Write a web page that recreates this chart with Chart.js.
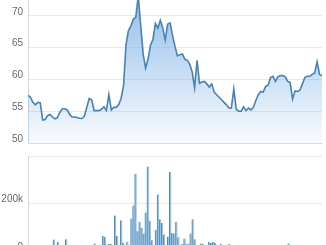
<!DOCTYPE html>
<html lang="en">
    <head>
        <meta charset="UTF-8" />
        <title>Price and Volume</title>
        <script src="https://cdn.jsdelivr.net/npm/chart.js@4.4.0/dist/chart.umd.min.js"></script>
        <style>
            html, body { margin: 0; padding: 0; background: #fff; overflow: hidden; }
            #priceChart { position: absolute; left: 0; top: 0; }
            #volumeChart { position: absolute; left: 0; top: 150px; }
        </style>
    </head>
    <body>
        <canvas id="priceChart" width="326" height="150"></canvas>
        <canvas id="volumeChart" width="326" height="105"></canvas>
        <script>
            // closing price, one value per trading day
            const price = [
                57.5, 57.2, 56.4, 56.0, 56.4, 56.3, 53.6, 53.7, 54.3, 54.5,
                54.1, 53.8, 54.0, 54.8, 55.4, 55.4, 55.2, 54.5, 54.1, 54.1,
                54.0, 53.9, 53.85, 54.2, 55.6, 57.0, 56.8, 55.1, 55.1, 55.1,
                55.3, 55.7, 55.1, 57.6, 55.2, 55.6, 55.6, 56.0, 57.0, 59.0,
                65.5, 67.7, 68.4, 69.5, 69.8, 73.2, 68.5, 64.0, 61.8, 63.2,
                65.4, 66.3, 68.8, 68.1, 69.3, 68.1, 66.2, 68.7, 68.9, 66.9,
                65.2, 63.7, 63.9, 64.0, 63.2, 63.0, 62.4, 61.2, 58.7, 63.0,
                59.4, 59.6, 59.7, 59.3, 58.8, 59.3, 58.0, 57.6, 57.2, 56.8,
                56.4, 56.0, 55.5, 55.5, 58.5, 55.3, 55.0, 55.0, 55.7, 55.1,
                55.5, 55.2, 55.6, 56.7, 57.6, 58.1, 58.0, 58.9, 59.1, 60.3,
                60.5, 59.7, 60.4, 60.6, 60.6, 60.4, 59.7, 59.5, 56.9, 58.2,
                58.1, 58.3, 59.3, 60.3, 60.5, 60.5, 60.8, 61.0, 62.8, 60.8,
                60.6
            ];
            // traded volume, same days
            const volume = [
                48000, 12000, 38000, 9000, 8000, 11000, 50000, 10000, 7000, 9000,
                8000, 10000, 12000, 9000, 8000, 7000, 10000, 9000, 11000, 10000,
                32000, 8000, 10000, 12000, 64000, 59000, 14000, 29000, 29000, 12000,
                149000, 63000, 15000, 129000, 35000, 14000, 39000, 16000, 137000, 192000,
                325000, 83000, 123000, 98000, 74000, 162000, 356000, 127000, 45000, 16000,
                88000, 238000, 134000, 118000, 70000, 16000, 60000, 333000, 76000, 74000,
                123000, 58000, 14000, 31000, 53000, 29000, 31000, 74000, 134000, 50000,
                12000, 10000, 32000, 29000, 12000, 10000, 38000, 35000, 38000, 35000,
                12000, 10000, 29000, 12000, 15000, 10000, 29000, 8000, 12000, 10000,
                8000, 12000, 10000, 8000, 6000, 10000, 8000, 12000, 10000, 8000,
                6000, 10000, 8000, 12000, 10000, 8000, 6000, 10000, 12000, 8000,
                10000, 6000, 8000, 10000, 12000, 32000, 8000, 10000, 6000, 8000,
                10000
            ];
            const days = price.map((p, i) => i);
            const priceTicks = [50, 55, 60, 65, 70];
            const volumeTicks = [0, 200000, 400000];

            const tickFont = { family: 'Liberation Sans', size: 10 };

            function fixAxis(scale) {
                scale.width = 28;
                scale.paddingTop = 0;
                scale.paddingBottom = 0;
            }

            function areaFill(context) {
                const chart = context.chart;
                const area = chart.chartArea;
                if (!area) return 'rgba(124,176,230,0.3)';
                const g = chart.ctx.createLinearGradient(0, area.top, 0, area.bottom);
                g.addColorStop(0, 'rgba(124,176,230,0.8)');
                g.addColorStop(1, 'rgba(124,176,230,0.05)');
                return g;
            }

            const priceChart = new Chart(document.getElementById('priceChart'), {
                type: 'line',
                data: {
                    labels: days,
                    datasets: [{
                        data: price,
                        borderColor: '#4682b4',
                        borderWidth: 1.6,
                        pointRadius: 0,
                        tension: 0,
                        fill: 'start',
                        backgroundColor: areaFill
                    }]
                },
                options: {
                    responsive: false,
                    animation: false,
                    layout: { padding: { left: 0, right: 4, top: 0, bottom: 7 } },
                    plugins: { legend: { display: false }, tooltip: { enabled: false } },
                    scales: {
                        x: { display: false },
                        y: {
                            min: 50,
                            max: 72.5,
                            afterBuildTicks: s => { s.ticks = priceTicks.map(v => ({ value: v })); },
                            afterFit: fixAxis,
                            ticks: { padding: 5, labelOffset: -4, color: '#666', font: tickFont },
                            grid: {
                                drawTicks: false,
                                color: c => c.tick && c.tick.value === 50 ? '#d6dce6' : '#e9e9e9'
                            },
                            border: { color: '#ccd6eb' }
                        }
                    }
                }
            });

            const volumeChart = new Chart(document.getElementById('volumeChart'), {
                type: 'bar',
                data: {
                    datasets: [{
                        data: volume.map((v, i) => ({ x: days[i], y: v })),
                        backgroundColor: '#9fc2dc',
                        borderColor: '#4a86b4',
                        borderWidth: { left: 1, right: 0, top: 0, bottom: 0 },
                        borderSkipped: false,
                        barThickness: 2
                    }]
                },
                options: {
                    responsive: false,
                    animation: false,
                    layout: { padding: { left: 0, right: 4, top: 6, bottom: 4 } },
                    plugins: { legend: { display: false }, tooltip: { enabled: false } },
                    scales: {
                        x: { type: 'linear', display: false, min: -0.75, max: 119.3 },
                        y: {
                            min: 0,
                            max: 400000,
                            afterBuildTicks: s => { s.ticks = volumeTicks.map(v => ({ value: v })); },
                            afterFit: fixAxis,
                            ticks: {
                                padding: 5,
                                labelOffset: -4,
                                color: '#666',
                                font: tickFont,
                                callback: v => v === 0 ? '0' : (v === 400000 ? '' : v / 1000 + 'k')
                            },
                            grid: { drawTicks: false, color: '#e9e9e9' },
                            border: { color: '#ccd6eb' }
                        }
                    }
                }
            });
        </script>
    </body>
</html>
